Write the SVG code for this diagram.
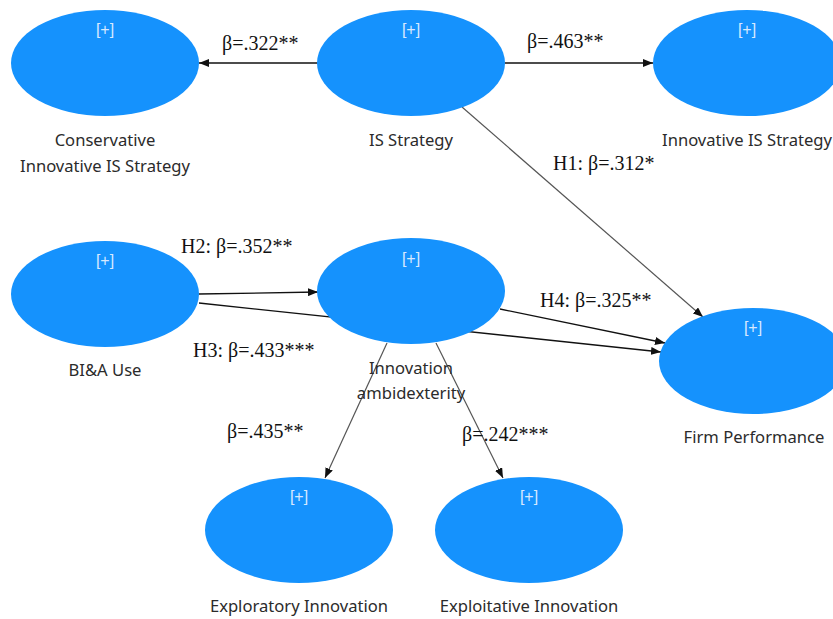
<svg xmlns="http://www.w3.org/2000/svg" width="833" height="619" viewBox="0 0 833 619">
<style>
.node{fill:#1592fd;}
.plus{font-family:"Liberation Sans",Arial,sans-serif;font-size:16px;fill:#d6e9ff;text-anchor:middle;}
.lbl{font-family:"Noto Sans","Open Sans",sans-serif;font-size:16.6px;fill:#2b2b2b;text-anchor:middle;}
.beta{font-family:"Liberation Serif","Times New Roman",serif;font-size:20px;fill:#111;}
.c{stroke:#111;stroke-width:1.3;fill:none;marker-end:url(#ah);}
.g{stroke:#555;stroke-width:1.2;fill:none;marker-end:url(#ah);}
</style>
<defs>
<marker id="ah" viewBox="0 0 10 8" refX="10" refY="4" markerWidth="10" markerHeight="8" markerUnits="userSpaceOnUse" orient="auto">
<path d="M0,0 L10,4 L0,8 Z" fill="#111"/>
</marker>
</defs>
<rect width="833" height="619" fill="#fff"/>
<g id="connectors">
<line class="c" x1="318" y1="63" x2="199" y2="63"/>
<line class="c" x1="505" y1="63" x2="653" y2="63"/>
<line class="g" x1="462" y1="107" x2="703" y2="317"/>
<line class="c" x1="199" y1="294" x2="318" y2="292"/>
<line class="c" x1="199" y1="303" x2="661" y2="352"/>
<line class="c" x1="500" y1="309" x2="665" y2="343"/>
<line class="g" x1="387" y1="343" x2="325" y2="478"/>
<line class="g" x1="436" y1="343" x2="503" y2="478"/>
</g>
<g id="conservative">
<ellipse class="node" cx="105" cy="63" rx="94" ry="53"/>
<text class="plus" x="105" y="35">[+]</text>
<text class="lbl" x="105" y="146">Conservative</text>
<text class="lbl" x="105" y="172">Innovative IS Strategy</text>
</g>
<g id="is-strategy">
<ellipse class="node" cx="411" cy="63" rx="94" ry="53"/>
<text class="plus" x="411" y="35">[+]</text>
<text class="lbl" x="411" y="146">IS Strategy</text>
</g>
<g id="innovative">
<ellipse class="node" cx="747" cy="63" rx="94" ry="53"/>
<text class="plus" x="747" y="35">[+]</text>
<text class="lbl" x="747" y="146">Innovative IS Strategy</text>
</g>
<g id="bia">
<ellipse class="node" cx="105" cy="294" rx="94" ry="53"/>
<text class="plus" x="105" y="266">[+]</text>
<text class="lbl" x="105" y="376">BI&amp;A Use</text>
</g>
<g id="ambidexterity">
<ellipse class="node" cx="411" cy="291" rx="94" ry="53"/>
<text class="plus" x="411" y="264">[+]</text>
<text class="lbl" x="411" y="374">Innovation</text>
<text class="lbl" x="411" y="399">ambidexterity</text>
</g>
<g id="firm">
<ellipse class="node" cx="753" cy="361" rx="94" ry="53"/>
<text class="plus" x="753" y="333">[+]</text>
<text class="lbl" x="754" y="443">Firm Performance</text>
</g>
<g id="exploratory">
<ellipse class="node" cx="299" cy="530" rx="94" ry="53"/>
<text class="plus" x="299" y="502">[+]</text>
<text class="lbl" x="299" y="612">Exploratory Innovation</text>
</g>
<g id="exploitative">
<ellipse class="node" cx="529" cy="530" rx="94" ry="53"/>
<text class="plus" x="529" y="502">[+]</text>
<text class="lbl" x="529" y="612">Exploitative Innovation</text>
</g>
<g id="labels">
<text class="beta" x="222" y="50">β=.322**</text>
<text class="beta" x="527" y="48">β=.463**</text>
<text class="beta" x="553" y="170">H1: β=.312*</text>
<text class="beta" x="181" y="253">H2: β=.352**</text>
<text class="beta" x="193" y="357">H3: β=.433***</text>
<text class="beta" x="540" y="307">H4: β=.325**</text>
<text class="beta" x="227" y="438">β=.435**</text>
<text class="beta" x="462" y="441">β=.242***</text>
</g>
</svg>
